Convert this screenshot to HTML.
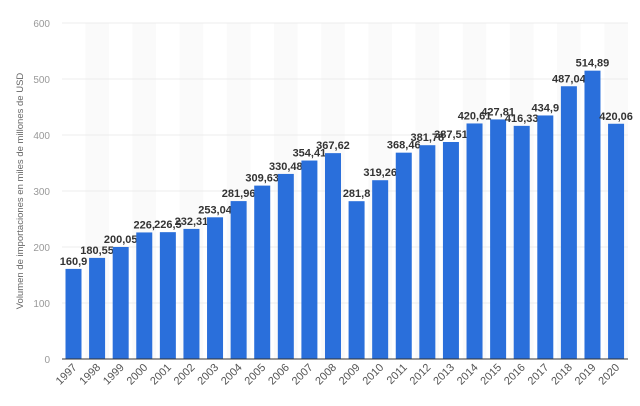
<!DOCTYPE html>
<html><head><meta charset="utf-8"><style>
body{margin:0;background:#fff;}
svg{display:block;font-family:"Liberation Sans",sans-serif;}
</style></head><body>
<svg width="640" height="406" viewBox="0 0 640 406" xmlns="http://www.w3.org/2000/svg">
<g id="bands"></g>
<g stroke="#ececec" stroke-width="1">
<line x1="62" y1="23" x2="628" y2="23"/>
<line x1="62" y1="79" x2="628" y2="79"/>
<line x1="62" y1="135" x2="628" y2="135"/>
<line x1="62" y1="191" x2="628" y2="191"/>
<line x1="62" y1="247" x2="628" y2="247"/>
<line x1="62" y1="303" x2="628" y2="303"/>
</g>
<g font-size="10" fill="#999" text-anchor="end">
<text x="50" y="27">600</text><text x="50" y="83">500</text><text x="50" y="139">400</text>
<text x="50" y="195">300</text><text x="50" y="251">200</text><text x="50" y="307">100</text><text x="50" y="363">0</text>
</g>
<text transform="translate(23,191) rotate(-90)" font-size="9.5" fill="#666" text-anchor="middle">Volumen de importaciones en miles de millones de USD</text>
<g id="bars"></g>
<line x1="62" y1="359" x2="628" y2="359" stroke="#333" stroke-width="1"/>
<script>
var v=[160.9,180.55,200.05,226,226.5,232.31,253.04,281.96,309.63,330.48,354.41,367.62,281.8,319.26,368.46,381.78,387.51,420.61,427.81,416.33,434.9,487.04,514.89,420.06];
var lab=["160,9","180,55","200,05","226,","226,5","232,31","253,04","281,96","309,63","330,48","354,41","367,62","281,8","319,26","368,46","381,78","387,51","420,61","427,81","416,33","434,9","487,04","514,89","420,06"];
var ns="http://www.w3.org/2000/svg",b=document.getElementById("bars"),bd=document.getElementById("bands");
function el(t,a,p,txt){var e=document.createElementNS(ns,t);for(var k in a)e.setAttribute(k,a[k]);if(txt)e.textContent=txt;p.appendChild(e);return e;}
for(var i=0;i<24;i++){var c=73.5+i*23.59,h=v[i]*0.56,y=359-h;
if(i%2==1)el("rect",{x:c-11.8,y:23,width:23.59,height:336,fill:"#fafafa"},bd);
el("rect",{x:c-8,y:y,width:16,height:h,fill:"#2a6fdb"},b);
el("text",{x:c,y:y-4,"font-size":"11","font-weight":"600",fill:"#333","text-anchor":"middle"},b,lab[i]);
el("text",{transform:"translate("+(c+4)+",368) rotate(-45)","font-size":"11",fill:"#555","text-anchor":"end"},b,String(1997+i));}
</script>
</svg>
</body></html>
